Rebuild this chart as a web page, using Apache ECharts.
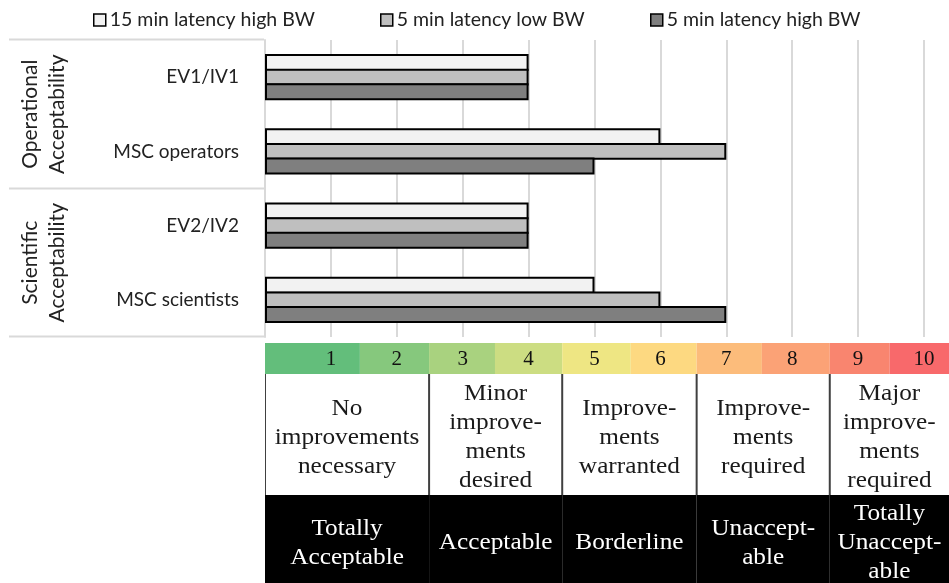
<!DOCTYPE html>
<html>
<head>
<meta charset="utf-8">
<title>Acceptability ratings</title>
<script src="https://cdn.jsdelivr.net/npm/echarts@6/dist/echarts.min.js"></script>
<style>
  html, body { margin: 0; padding: 0; background: #ffffff; }
  #chart { width: 949px; height: 583px; }
</style>
</head>
<body>
<div id="chart"></div>
<script>
// Rated categories (top to bottom) and their two groups
const categories = ['EV1/IV1', 'MSC operators', 'EV2/IV2', 'MSC scientists'];
const groupLabels = ['Operational\nAcceptability', 'Scientific\nAcceptability'];

// Series names and ratings per category
const seriesNames = ['15 min latency high BW', '5 min latency low BW', '5 min latency high BW'];
const latency15High = [4, 6, 4, 5];
const latency5Low = [4, 7, 4, 6];
const latency5High = [4, 5, 4, 7];

// Rating scale: levels 1..10 and the edges of each coloured cell on the rating axis
const scaleLevels = [1, 2, 3, 4, 5, 6, 7, 8, 9, 10];
const scaleEdges = [0, 1.44, 2.49, 3.49, 4.51, 5.55, 6.55, 7.54, 8.57, 9.48, 10.5];

// Verbal descriptions, one per pair of levels
const improvementText = [
  'No\nimprovements\nnecessary',
  'Minor\nimprove-\nments\ndesired',
  'Improve-\nments\nwarranted',
  'Improve-\nments\nrequired',
  'Major\nimprove-\nments\nrequired'
];
const acceptabilityText = [
  'Totally\nAcceptable',
  'Acceptable',
  'Borderline',
  'Unaccept-\nable',
  'Totally\nUnaccept-\nable'
];

// ---- styling ----
const scaleColors = ['#63be7b', '#86c87d', '#a9d27f', '#ccdd82', '#eee683',
                     '#fdd981', '#fcbc7b', '#fba276', '#f9856f', '#f8696b'];
const barColors = ['#f2f2f2', '#bfbfbf', '#7f7f7f'];
const sansFont = 'Lato';
const serifFont = '"Liberation Serif"';
const textColor = '#222222';
const gridLineColor = '#d9d9d9';

const PLOT_LEFT = 265, PLOT_TOP = 40, PLOT_H = 297, UNIT = 65.9;
const STRIP_TOP = 343, STRIP_H = 31;
const DESC_TOP = 374, DESC_H = 121;
const ACC_TOP = 495, ACC_H = 88;
const LOWER_MAX = (949 - PLOT_LEFT) / UNIT;

const chart = echarts.init(document.getElementById('chart'), null, { renderer: 'canvas' });

const seriesValues = [latency15High, latency5Low, latency5High];
const legendLefts = [88, 375, 645];

// cell spans: [startEdge, endEdge, category index, item index]
const stripData = scaleLevels.map((k, i) => [scaleEdges[i], scaleEdges[i + 1], 0, k]);
const pairData = improvementText.map((t, i) => [scaleEdges[2 * i], scaleEdges[2 * i + 2], 0, i]);

function renderStrip(params, api) {
  const x0 = api.coord([api.value(0), 0])[0];
  const x1 = api.coord([api.value(1), 0])[0];
  const mid = api.coord([api.value(3), 0]);
  const h = api.size([0, 1])[1];
  return {
    type: 'group',
    children: [
      { type: 'rect', shape: { x: x0, y: mid[1] - h / 2, width: x1 - x0, height: h },
        style: { fill: scaleColors[params.dataIndex] } },
      { type: 'text', x: mid[0], y: mid[1] + 1,
        style: { text: String(api.value(3)), textAlign: 'center', textVerticalAlign: 'middle',
                 fontFamily: serifFont, fontSize: 21, fill: '#111111' } }
    ]
  };
}

function makeRowRenderer(texts, fill, txtFill, lineColor, dy) {
  return function (params, api) {
    const x0 = api.coord([api.value(0), 0])[0];
    const p1 = api.coord([api.value(1), 0]);
    const x1 = p1[0];
    const h = api.size([0, 1])[1];
    const yTop = p1[1] - h / 2;
    const children = [
      { type: 'rect', shape: { x: x0, y: yTop, width: x1 - x0, height: h }, style: { fill: fill } }
    ];
    if (lineColor) {
      children.push({ type: 'line', shape: { x1: x0, y1: yTop, x2: x0, y2: yTop + h },
                      style: { stroke: lineColor, lineWidth: 2 } });
    }
    children.push({
      type: 'text', x: (x0 + Math.min(x1, 949)) / 2, y: p1[1] + dy,
      scaleX: 1.1,
      style: { text: texts[api.value(3)], textAlign: 'center', textVerticalAlign: 'middle',
               fontFamily: serifFont, fontSize: 23, lineHeight: 29, fill: txtFill }
    });
    return { type: 'group', children: children };
  };
}

const lowerX = (gi) => ({
  type: 'value', gridIndex: gi, min: 0, max: LOWER_MAX, show: false
});
const lowerY = (gi) => ({
  type: 'category', gridIndex: gi, data: ['row'], show: false
});

const option = {
  animation: false,
  backgroundColor: '#ffffff',
  textStyle: { fontFamily: sansFont },
  legend: seriesNames.map((name, i) => ({
    data: [name],
    left: legendLefts[i],
    top: 5,
    itemWidth: 12,
    itemHeight: 12,
    icon: 'rect',
    itemStyle: { borderColor: '#000', borderWidth: 1.5 },
    textStyle: { fontFamily: sansFont, fontSize: 19.5, color: textColor, padding: [0, 0, 0, -1] },
    selectedMode: false
  })),
  grid: [
    { left: PLOT_LEFT, top: PLOT_TOP, width: UNIT * 10, height: PLOT_H },
    { left: PLOT_LEFT, top: STRIP_TOP, right: 0, height: STRIP_H },
    { left: PLOT_LEFT, top: DESC_TOP, right: 0, height: DESC_H },
    { left: PLOT_LEFT, top: ACC_TOP, right: 0, height: ACC_H }
  ],
  xAxis: [
    {
      type: 'value', gridIndex: 0, min: 0, max: 10, interval: 1,
      axisLine: { show: false }, axisTick: { show: false }, axisLabel: { show: false },
      splitLine: { show: true, lineStyle: { color: gridLineColor, width: 2 } }
    },
    lowerX(1), lowerX(2), lowerX(3)
  ],
  yAxis: [
    {
      type: 'category', gridIndex: 0, data: categories, inverse: true,
      axisLine: { show: true, lineStyle: { color: gridLineColor, width: 2 } },
      axisTick: { show: false },
      axisLabel: { fontFamily: sansFont, fontSize: 19, color: textColor, margin: 26 }
    },
    lowerY(1), lowerY(2), lowerY(3)
  ],
  series: [
    ...seriesNames.map((name, i) => ({
      name: name,
      type: 'bar',
      xAxisIndex: 0, yAxisIndex: 0,
      data: seriesValues[i],
      barGap: '-13%',
      barCategoryGap: '38%',
      itemStyle: { color: barColors[i], borderColor: '#000000', borderWidth: 2 },
      emphasis: { disabled: true }
    })),
    {
      type: 'custom', xAxisIndex: 1, yAxisIndex: 1, clip: true,
      renderItem: renderStrip, data: stripData,
      encode: { x: [0, 1], y: 2 }, silent: true
    },
    {
      type: 'custom', xAxisIndex: 2, yAxisIndex: 2, clip: true,
      renderItem: makeRowRenderer(improvementText, '#ffffff', '#1a1a1a', '#404040', 3),
      data: pairData, encode: { x: [0, 1], y: 2 }, silent: true
    },
    {
      type: 'custom', xAxisIndex: 3, yAxisIndex: 3, clip: true,
      renderItem: makeRowRenderer(acceptabilityText, '#000000', '#ffffff', null, 4),
      data: pairData, encode: { x: [0, 1], y: 2 }, silent: true
    }
  ]
};

chart.setOption(option);

// Two-level category axis: group separators and rotated group names
function drawGroups() {
  const yTop = chart.convertToPixel({ yAxisIndex: 0 }, categories[0]);
  const band = chart.convertToPixel({ yAxisIndex: 0 }, categories[1]) - yTop;
  const start = yTop - band / 2;
  const axisX = PLOT_LEFT - 1;
  const elements = [];
  [0, 2, 4].forEach(k => {
    const y = Math.round(start + band * k) - 0.5;
    elements.push({
      type: 'line', silent: true,
      shape: { x1: 9, y1: y, x2: axisX, y2: y },
      style: { stroke: gridLineColor, lineWidth: 2 }
    });
  });
  groupLabels.forEach((g, i) => {
    elements.push({
      type: 'text', silent: true,
      x: 43.5, y: start + band * (2 * i + 1),
      rotation: Math.PI / 2,
      style: { text: g, textAlign: 'center', textVerticalAlign: 'middle',
               fontFamily: sansFont, fontSize: 21, lineHeight: 27, fill: textColor }
    });
  });
  chart.setOption({ graphic: elements });
}
drawGroups();
</script>
</body>
</html>
